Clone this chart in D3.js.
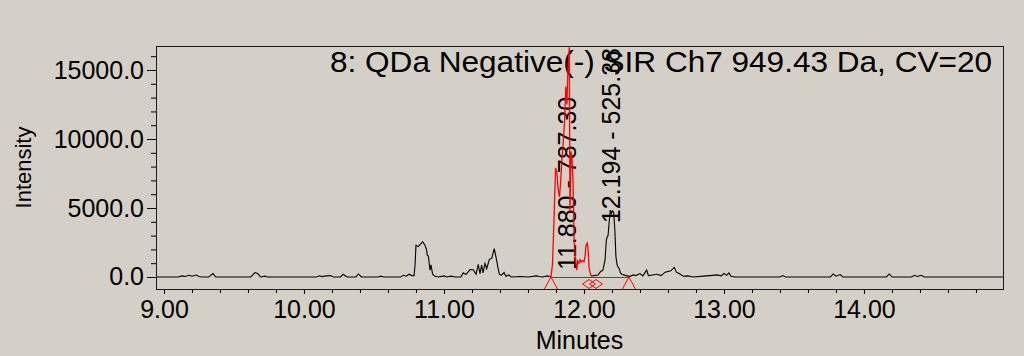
<!DOCTYPE html>
<html>
<head>
<meta charset="utf-8">
<script src="https://cdn.jsdelivr.net/npm/d3@7"></script>
<style>
  body { margin: 0; background: #d4d0c8; }
  svg { display: block; font-family: "Liberation Sans", Arial, sans-serif; }
</style>
</head>
<body>
<div id="chart"></div>
<script>
// trace before the integrated region (minutes, intensity)
const traceA = [
  [8.943, 0], [9.10, 0], [9.13, 80], [9.15, 40], [9.18, 120], [9.20, 60], [9.23, 140], [9.25, 40], [9.27, 0],
  [9.32, 0], [9.35, 250], [9.37, 0], [9.62, 0], [9.65, 320], [9.67, 250], [9.69, 0], [9.72, 60], [9.74, 0],
  [10.09, 0], [10.11, 90], [10.13, 30], [10.16, 80], [10.19, 100], [10.21, 0], [10.26, 0], [10.28, 200],
  [10.30, 60], [10.31, 0], [10.37, 0], [10.39, 220], [10.41, 0], [10.53, 0], [10.55, 60], [10.57, 0],
  [10.69, 0], [10.71, 120], [10.73, 60], [10.75, 200], [10.77, 100], [10.786, 100], [10.793, 800],
  [10.80, 2300], [10.816, 2200], [10.829, 2350], [10.848, 2550], [10.864, 2300], [10.875, 2000],
  [10.88, 1600], [10.889, 1500], [10.90, 500], [10.907, 880], [10.919, 200], [10.936, 50], [10.96, 0],
  [11.00, 80], [11.02, 0], [11.05, 60], [11.08, 0], [11.12, 0], [11.138, 300], [11.157, 180], [11.186, 530],
  [11.209, 520], [11.229, 200], [11.245, 920], [11.257, 250], [11.269, 870], [11.279, 300], [11.293, 990],
  [11.305, 600], [11.324, 1280], [11.341, 1350], [11.359, 2050], [11.371, 1470], [11.384, 750],
  [11.395, 220], [11.407, 120], [11.429, 310], [11.443, 50], [11.464, 150], [11.479, 0], [11.55, 40],
  [11.60, 0], [11.66, 80], [11.68, 30], [11.70, 0], [11.74, 80], [11.764, 0]
];
// integrated peak 1 (drawn red)
const traceRed = [
  [11.764, 0], [11.775, 900], [11.786, 4200], [11.797, 7900], [11.806, 7600], [11.815, 6400],
  [11.825, 5800], [11.834, 7000], [11.843, 8600], [11.852, 9800], [11.861, 11200], [11.870, 13800],
  [11.878, 12500], [11.886, 15200], [11.895, 16650], [11.900, 4700], [11.907, 9100], [11.914, 8600],
  [11.921, 7200], [11.930, 2600], [11.940, 1200], [11.948, 500], [11.955, 1150], [11.965, 1000],
  [11.972, 1250], [11.980, 1100], [11.990, 1200], [12.000, 1100], [12.008, 1500], [12.014, 2300],
  [12.024, 2450], [12.030, 1900], [12.036, 700], [12.043, 350], [12.050, 80]
];
// rest of the trace
const traceB = [
  [12.050, 80], [12.07, 100], [12.10, 150], [12.12, 400], [12.135, 500], [12.150, 1200], [12.160, 2700],
  [12.166, 2900], [12.172, 3000], [12.180, 4000], [12.188, 4850], [12.195, 4600], [12.203, 4800],
  [12.212, 4700], [12.220, 3500], [12.228, 1500], [12.236, 900], [12.244, 700], [12.252, 620],
  [12.260, 300], [12.27, 200], [12.30, 100], [12.33, 50], [12.35, 150], [12.37, 100], [12.40, 250],
  [12.42, 80], [12.448, 500], [12.46, 100], [12.49, 150], [12.52, 200], [12.55, 100], [12.58, 350],
  [12.62, 450], [12.645, 700], [12.66, 350], [12.68, 250], [12.71, 50], [12.74, 80], [12.78, 0],
  [12.85, 60], [12.90, 100], [12.95, 150], [12.98, 80], [13.00, 250], [13.02, 120], [13.035, 300],
  [13.05, 60], [13.08, 0], [13.40, 0], [13.42, 100], [13.44, 0], [13.76, 0], [13.78, 220], [13.80, 60],
  [13.83, 180], [13.85, 0], [14.16, 0], [14.18, 220], [14.20, 0], [14.34, 0], [14.36, 120], [14.38, 40],
  [14.41, 120], [14.43, 0], [14.993, 0]
];

const peakTimes = [11.880, 12.194];
const peakAreas = ["787.30", "525.38"];
const peakBounds = [[11.764, 12.036], [12.086, 12.321]];

const xMajor = [9, 10, 11, 12, 13, 14];
const xMinor = [9.2, 9.4, 9.6, 9.8, 10.2, 10.4, 10.6, 10.8, 11.2, 11.4, 11.6, 11.8, 12.2, 12.4, 12.6, 12.8,
                13.2, 13.4, 13.6, 13.8, 14.2, 14.4, 14.6, 14.8];
const yMajor = [0, 5000, 10000, 15000];
const yMinor = [1000, 2000, 3000, 4000, 6000, 7000, 8000, 9000, 11000, 12000, 13000, 14000, 16000];

const title = "8: QDa Negative(-) SIR Ch7 949.43 Da, CV=20";

function drawChart() {
    let width = 1024, height = 356;
    let plot = { left: 156, right: 1003, top: 46, bottom: 289 };

    let x = d3.scaleLinear().domain([8.943, 14.993]).range([plot.left, plot.right]);
    let y = d3.scaleLinear().domain([-870, 16740]).range([plot.bottom, plot.top]);

    let svg = d3.select('#chart').append('svg')
        .attr('width', width)
        .attr('height', height);

    svg.append('rect').attr('width', width).attr('height', height).attr('fill', '#d4d0c8');

    svg.append('defs').append('clipPath').attr('id', 'clip')
        .append('rect')
        .attr('x', plot.left).attr('y', plot.top)
        .attr('width', plot.right - plot.left).attr('height', plot.bottom - plot.top);

    // axes
    svg.append('g').attr('transform', 'translate(' + plot.left + ',0)')
        .call(d3.axisLeft(y).tickValues(yMajor).tickSize(9).tickPadding(3).tickFormat(d3.format('.1f')));
    svg.append('g').attr('transform', 'translate(' + plot.left + ',0)')
        .call(d3.axisLeft(y).tickValues(yMinor).tickSize(5).tickFormat(''));
    svg.append('g').attr('transform', 'translate(0,' + plot.bottom + ')')
        .call(d3.axisBottom(x).tickValues(xMajor).tickSize(5).tickPadding(6).tickFormat(d3.format('.2f')));
    svg.append('g').attr('transform', 'translate(0,' + plot.bottom + ')')
        .call(d3.axisBottom(x).tickValues(xMinor).tickSize(4).tickFormat(''));
    svg.selectAll('.domain').remove();
    svg.selectAll('.tick line').attr('stroke', '#000');
    svg.selectAll('.tick text').attr('fill', '#000').style('font-size', '25px')
        .style('font-family', '"Liberation Sans", Arial, sans-serif');

    svg.append('rect')
        .attr('x', plot.left + 0.5).attr('y', plot.top + 0.5)
        .attr('width', plot.right - plot.left).attr('height', plot.bottom - plot.top)
        .attr('fill', 'none').attr('stroke', '#1a1a1a').attr('stroke-width', 1);

    svg.append('text')
        .attr('transform', 'translate(31,' + (plot.top + plot.bottom) / 2 + ') rotate(-90)')
        .attr('text-anchor', 'middle')
        .style('font-size', '22px')
        .text('Intensity');
    svg.append('text')
        .attr('x', (plot.left + plot.right) / 2)
        .attr('y', 349)
        .attr('text-anchor', 'middle')
        .style('font-size', '25px')
        .text('Minutes');

    // title is drawn a little wider than the font's natural width
    svg.append('text')
        .attr('x', 330)
        .attr('y', 72)
        .attr('textLength', 662)
        .attr('lengthAdjust', 'spacingAndGlyphs')
        .style('font-size', '30px')
        .text(title);

    // peak labels, rotated
    let labelBase = [500, 3900];
    svg.selectAll('.peak-label')
        .data(peakTimes)
        .enter().append('text')
        .attr('class', 'peak-label')
        .attr('transform', (d, i) => 'translate(' + (x(d) + 9) + ',' + y(labelBase[i]) + ') rotate(-90)')
        .style('font-size', '25px')
        .text((d, i) => d.toFixed(3) + ' - ' + peakAreas[i]);

    let line = d3.line().x(d => x(d[0])).y(d => y(d[1]));
    let traces = svg.append('g').attr('clip-path', 'url(#clip)');
    traces.append('path').datum(traceA).attr('d', line)
        .attr('fill', 'none').attr('stroke', '#000').attr('stroke-width', 1.1);
    traces.append('path').datum(traceB).attr('d', line)
        .attr('fill', 'none').attr('stroke', '#000').attr('stroke-width', 1.1);

    // integration baseline and markers
    let y0 = y(0);
    traces.append('line')
        .attr('x1', x(peakBounds[0][0])).attr('x2', x(peakBounds[peakBounds.length - 1][1]))
        .attr('y1', y0 + 0.5).attr('y2', y0 + 0.5)
        .attr('stroke', '#ff0000').attr('stroke-width', 1);

    traces.append('path').datum(traceRed).attr('d', line)
        .attr('fill', 'none').attr('stroke', '#ff0000').attr('stroke-width', 1.3);

    let bounds = [];
    peakBounds.forEach(function(b, i) {
        bounds.push({ t: b[0], dropped: i > 0 });
        bounds.push({ t: b[1], dropped: i < peakBounds.length - 1 });
    });
    let marks = svg.append('g').attr('fill', 'none').attr('stroke', '#ff0000').attr('stroke-width', 1);
    bounds.forEach(function(b) {
        let cx = x(b.t);
        if (b.dropped) {
            marks.append('path')
                .attr('d', 'M' + (cx - 6.5) + ',' + (y0 + 7) + 'L' + cx + ',' + (y0 + 2.5) + 'L' + (cx + 6.5) + ',' + (y0 + 7)
                    + 'L' + cx + ',' + (y0 + 11.5) + 'Z');
        } else {
            marks.append('path')
                .attr('d', 'M' + (cx - 6.5) + ',' + (y0 + 12) + 'L' + cx + ',' + y0 + 'L' + (cx + 6.5) + ',' + (y0 + 12));
        }
    });
}

drawChart();
</script>
</body>
</html>
